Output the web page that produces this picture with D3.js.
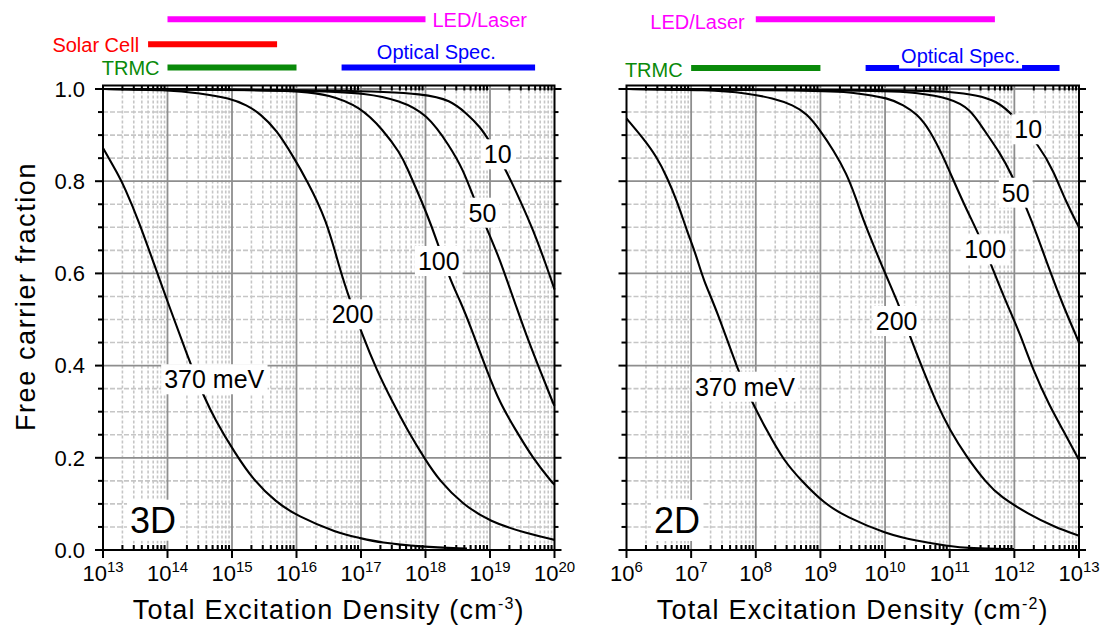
<!DOCTYPE html>
<html>
<head>
<meta charset="utf-8">
<script src="https://cdn.jsdelivr.net/npm/d3@7/dist/d3.min.js"></script>
<style>
html,body{margin:0;padding:0;background:#fff;}
svg{display:block;}
text{font-family:"Liberation Sans",Arial,Helvetica,sans-serif;}
</style>
</head>
<body>
<svg id="chart" width="1118" height="634"></svg>
<script>
// ================= DATA =================
// Each curve: [log10(total excitation density), free carrier fraction]
// 3D panel (density in cm^-3)
const curve3D_10 = [[13.0,1.0],[17.0,0.998],[18.0,0.989],[18.38,0.976],[18.639,0.947],[18.845,0.918],[19.0,0.886],[19.259,0.821],[19.465,0.759],[19.671,0.694],[19.879,0.615],[20.0,0.565]];
const curve3D_50 = [[13.0,1.0],[16.3,0.997],[17.088,0.991],[17.6,0.975],[18.019,0.947],[18.38,0.875],[18.586,0.824],[18.74,0.766],[18.949,0.698],[19.155,0.629],[19.26,0.586],[19.39,0.535],[19.57,0.463],[19.775,0.390],[19.98,0.318],[20.0,0.313]];
const curve3D_100 = [[13.0,1.0],[15.5,0.998],[16.05,0.995],[16.5,0.988],[16.984,0.962],[17.346,0.911],[17.605,0.861],[17.709,0.831],[17.864,0.781],[18.019,0.730],[18.174,0.672],[18.38,0.586],[18.535,0.542],[18.72,0.477],[18.949,0.390],[19.155,0.318],[19.40,0.260],[19.65,0.202],[19.97,0.145],[20.0,0.142]];
const curve3D_200 = [[13.0,1.0],[14.0,0.998],[14.504,0.991],[14.969,0.980],[15.228,0.965],[15.434,0.947],[15.693,0.911],[15.95,0.853],[16.158,0.803],[16.468,0.716],[16.674,0.607],[16.829,0.542],[17.011,0.470],[17.243,0.390],[17.50,0.318],[17.72,0.260],[18.0,0.195],[18.22,0.150],[18.56,0.101],[19.0,0.061],[19.569,0.036],[20.0,0.022]];
const curve3D_370 = [[13.0,0.872],[13.24,0.813],[13.33,0.788],[13.55,0.716],[13.86,0.593],[14.349,0.405],[14.555,0.336],[14.74,0.282],[15.047,0.210],[15.33,0.152],[15.68,0.104],[16.008,0.074],[16.628,0.037],[16.984,0.026],[17.295,0.016],[17.915,0.007],[18.643,0.003]];

// 2D panel (density in cm^-2)
const curve2D_10 = [[6.0,1.0],[10.5,0.998],[11.0,0.994],[11.416,0.987],[11.725,0.974],[11.982,0.944],[12.395,0.875],[12.6,0.824],[12.808,0.752],[13.0,0.700]];
const curve2D_50 = [[6.0,1.0],[10.0,0.997],[10.5,0.992],[11.003,0.980],[11.312,0.958],[11.53,0.911],[11.78,0.861],[11.95,0.817],[12.2,0.738],[12.36,0.680],[12.55,0.605],[12.74,0.535],[13.0,0.450]];
const curve2D_100 = [[6.0,1.0],[9.0,0.997],[9.5,0.993],[10.075,0.980],[10.28,0.965],[10.488,0.947],[10.694,0.911],[10.9,0.853],[11.054,0.803],[11.261,0.738],[11.467,0.680],[11.673,0.607],[11.88,0.535],[12.086,0.470],[12.29,0.390],[12.55,0.311],[12.755,0.260],[13.0,0.195]];
const curve2D_200 = [[6.0,1.0],[7.3,0.998],[7.859,0.991],[8.27,0.980],[8.58,0.965],[8.787,0.947],[8.993,0.911],[9.198,0.868],[9.405,0.817],[9.56,0.759],[9.662,0.716],[9.87,0.644],[10.01,0.597],[10.227,0.528],[10.384,0.463],[10.59,0.390],[10.797,0.318],[11.003,0.260],[11.261,0.202],[11.57,0.145],[11.79,0.115],[12.205,0.079],[12.62,0.050],[13.0,0.031]];
const curve2D_370 = [[6.0,0.936],[6.26,0.893],[6.467,0.853],[6.622,0.810],[6.776,0.759],[6.931,0.694],[7.086,0.636],[7.188,0.586],[7.395,0.521],[7.729,0.387],[7.936,0.322],[8.168,0.260],[8.425,0.195],[8.72,0.148],[9.06,0.101],[9.393,0.072],[10.018,0.035],[10.487,0.020],[10.955,0.009],[11.32,0.0035],[11.996,0.002]];

const curveNames = ["10","50","100","200","370 meV"];
const tickExp3D = [13,14,15,16,17,18,19,20];
const tickExp2D = [6,7,8,9,10,11,12,13];
const yTickValues = [0.0,0.2,0.4,0.6,0.8,1.0];
const yTickLabels = ["0.0","0.2","0.4","0.6","0.8","1.0"];

// measurement technique ranges [name, from, to]
const ranges3D = [["LED/Laser",1e14,1e18],["Solar Cell",5e13,5e15],["TRMC",1e14,1e16],["Optical Spec.",5e16,5e19]];
const ranges2D = [["LED/Laser",1e8,5e11],["TRMC",1e7,1e9],["Optical Spec.",5e9,5e12]];

// ================= LAYOUT =================
const svg = d3.select("#chart");
const Y0 = 550, YT = 85.5;
const y = d3.scaleLinear().domain([0, 1.0076]).range([Y0, YT]);
const rangeColors = {"LED/Laser":"#ff00ff","Solar Cell":"#ff0000","TRMC":"#0a8a0a","Optical Spec.":"#0000ff"};

const panels = [
  {
    dim:"3D", unit:"-3",
    x: d3.scaleLog().domain([1e13,1e20]).range([103,554.5]),
    exps: tickExp3D,
    curves:[curve3D_10,curve3D_50,curve3D_100,curve3D_200,curve3D_370],
    labelPos:[[19.119,0.8388],[18.884,0.7121],[18.206,0.6074],[16.868,0.4918],[14.724,0.3508]],
    dimPos:[13.419,0.0375],
    yLabels:true,
    ranges: ranges3D,
    rangeLayout:{
      "LED/Laser":{row:19.3, side:"right", gap:7, base:27},
      "Solar Cell":{row:44.3, side:"left", gap:9, base:51.5},
      "TRMC":{row:67.6, side:"left", gap:8, base:75},
      "Optical Spec.":{row:67.6, side:"above", base:59}
    }
  },
  {
    dim:"2D", unit:"-2",
    x: d3.scaleLog().domain([1e6,1e13]).range([626.5,1079]),
    exps: tickExp2D,
    curves:[curve2D_10,curve2D_50,curve2D_100,curve2D_200,curve2D_370],
    labelPos:[[12.214,0.8931],[12.021,0.7555],[11.549,0.6328],[10.179,0.4772],[7.833,0.3347]],
    dimPos:[6.425,0.0369],
    yLabels:false,
    ranges: ranges2D,
    rangeLayout:{
      "LED/Laser":{row:19.3, side:"left", gap:11, base:28.5},
      "TRMC":{row:68, side:"left", gap:8.5, base:77},
      "Optical Spec.":{row:68, side:"above", base:62.5, box:true}
    }
  }
];

const MAJ = "#8e8e8e", MIN = "#c6c6c6";

panels.forEach(p => {
  const g = svg.append("g");
  const [x0, x1] = p.x.range();
  const lo = p.exps[0], hi = p.exps[p.exps.length-1];

  const minorX = [];
  for (let e = lo; e < hi; e++) for (let k = 2; k <= 9; k++) minorX.push(k * Math.pow(10, e));
  const minorY = d3.range(1, 20).filter(i => i % 4 !== 0).map(i => i * 0.05);
  const majorX = p.exps.slice(1, -1).map(e => Math.pow(10, e));
  const majorY = [0.2, 0.4, 0.6, 0.8, 1.0];

  // minor grid
  g.append("g").selectAll("line").data(minorX).join("line")
    .attr("x1", d => p.x(d)).attr("x2", d => p.x(d)).attr("y1", YT).attr("y2", Y0)
    .attr("stroke", MIN).attr("stroke-width", 1.6).attr("stroke-dasharray", "3,2");
  g.append("g").selectAll("line").data(minorY).join("line")
    .attr("x1", x0).attr("x2", x1).attr("y1", d => y(d)).attr("y2", d => y(d))
    .attr("stroke", MIN).attr("stroke-width", 1.6).attr("stroke-dasharray", "5,2");
  // major grid
  g.append("g").selectAll("line").data(majorX).join("line")
    .attr("x1", d => p.x(d)).attr("x2", d => p.x(d)).attr("y1", YT).attr("y2", Y0)
    .attr("stroke", MAJ).attr("stroke-width", 1.8);
  g.append("g").selectAll("line").data(majorY).join("line")
    .attr("x1", x0).attr("x2", x1).attr("y1", d => y(d)).attr("y2", d => y(d))
    .attr("stroke", MAJ).attr("stroke-width", 1.8);

  // curves
  const line = d3.line()
    .x(d => p.x(Math.pow(10, d[0])))
    .y(d => y(d[1]))
    .curve(d3.curveBasis);
  g.append("g").selectAll("path").data(p.curves).join("path")
    .attr("d", line).attr("fill", "none").attr("stroke", "#000").attr("stroke-width", 2.1);

  // curve labels with white boxes
  curveNames.forEach((name, i) => {
    const [lx, ly] = p.labelPos[i];
    const gl = g.append("g");
    const r = gl.append("rect").attr("fill", "#fff");
    const t = gl.append("text").attr("x", p.x(Math.pow(10, lx))).attr("y", y(ly))
      .attr("text-anchor", "middle").attr("font-size", 25).attr("fill", "#000").text(name);
    const bb = t.node().getBBox();
    r.attr("x", bb.x - 3).attr("y", bb.y - 1).attr("width", bb.width + 6).attr("height", bb.height + 2);
  });
  // 3D / 2D label
  {
    const gl = g.append("g");
    const r = gl.append("rect").attr("fill", "#fff");
    const t = gl.append("text").attr("x", p.x(Math.pow(10, p.dimPos[0]))).attr("y", y(p.dimPos[1]))
      .attr("font-size", 36).attr("fill", "#000").text(p.dim);
    const bb = t.node().getBBox();
    r.attr("x", bb.x - 3).attr("y", bb.y).attr("width", bb.width + 6).attr("height", bb.height);
  }

  // frame
  g.append("rect").attr("x", x0).attr("y", YT).attr("width", x1 - x0).attr("height", Y0 - YT)
    .attr("fill", "none").attr("stroke", "#000").attr("stroke-width", 2);

  // ticks
  const tk = g.append("g").attr("stroke", "#000").attr("stroke-width", 2);
  const minorYT = d3.range(1, 20).filter(i => i % 4 !== 0).map(i => i * 0.05);
  tk.selectAll(".lmaj").data(yTickValues).join("line").attr("class","lmaj")
    .attr("x1", x0 - 8).attr("x2", x0).attr("y1", d => y(d)).attr("y2", d => y(d));
  tk.selectAll(".lmin").data(minorYT).join("line").attr("class","lmin")
    .attr("x1", x0 - 5).attr("x2", x0).attr("y1", d => y(d)).attr("y2", d => y(d));
  tk.selectAll(".rmaj").data(yTickValues).join("line").attr("class","rmaj")
    .attr("x1", x1).attr("x2", x1 + 7).attr("y1", d => y(d)).attr("y2", d => y(d));
  tk.selectAll(".rmin").data(minorYT).join("line").attr("class","rmin")
    .attr("x1", x1).attr("x2", x1 + 4).attr("y1", d => y(d)).attr("y2", d => y(d));
  tk.selectAll(".bmaj").data(p.exps.map(e => Math.pow(10, e))).join("line").attr("class","bmaj")
    .attr("x1", d => p.x(d)).attr("x2", d => p.x(d)).attr("y1", Y0).attr("y2", Y0 + 8);
  tk.selectAll(".bmin").data(minorX).join("line").attr("class","bmin")
    .attr("x1", d => p.x(d)).attr("x2", d => p.x(d)).attr("y1", Y0).attr("y2", Y0 - 5);
  tk.selectAll(".tmin").data(minorX).join("line").attr("class","tmin")
    .attr("x1", d => p.x(d)).attr("x2", d => p.x(d)).attr("y1", YT).attr("y2", YT + 5);

  // x tick labels
  p.exps.forEach(e => {
    const t = g.append("text").attr("x", p.x(Math.pow(10, e))).attr("y", 581)
      .attr("text-anchor", "middle").attr("font-size", 22).attr("fill", "#000");
    t.append("tspan").text("10");
    t.append("tspan").attr("font-size", 15).attr("dy", -9).text(String(e));
  });

  // y tick labels
  if (p.yLabels) {
    g.selectAll(".ylab").data(yTickValues).join("text").attr("class","ylab")
      .attr("x", 85).attr("y", d => y(d) + 7.8).attr("text-anchor", "end")
      .attr("font-size", 22).attr("fill", "#000")
      .text((d, i) => yTickLabels[i]);
  }

  // x axis title
  const tt = g.append("text").attr("x", (x0 + x1) / 2).attr("y", 619)
    .attr("text-anchor", "middle").attr("font-size", 27).attr("letter-spacing", 1.2).attr("fill", "#000");
  tt.append("tspan").text("Total Excitation Density (cm");
  tt.append("tspan").attr("font-size", 16).attr("dy", -10).text(p.unit);
  tt.append("tspan").attr("dy", 10).text(")");

  // technique range bars
  p.ranges.forEach(([name, a, b]) => {
    const L = p.rangeLayout[name];
    const col = rangeColors[name];
    const xa = p.x(a), xb = p.x(b);
    g.append("line").attr("x1", xa).attr("x2", xb).attr("y1", L.row).attr("y2", L.row)
      .attr("stroke", col).attr("stroke-width", 6);
    const gl = g.append("g");
    const r = gl.append("rect").attr("fill", "#fff");
    const t = gl.append("text").attr("font-size", 20).attr("fill", col).text(name).attr("y", L.base);
    if (L.side === "right") t.attr("x", xb + L.gap).attr("text-anchor", "start");
    else if (L.side === "left") t.attr("x", xa - L.gap).attr("text-anchor", "end");
    else t.attr("x", (xa + xb) / 2 - 2).attr("text-anchor", "middle");
    if (L.box) {
      const bb = t.node().getBBox();
      r.attr("x", bb.x - 2).attr("y", bb.y).attr("width", bb.width + 4).attr("height", L.row + 0.5 - bb.y);
    }
  });
});

// y axis title
svg.append("text").attr("transform", "translate(35,296.5) rotate(-90)")
  .attr("text-anchor", "middle").attr("font-size", 27).attr("letter-spacing", 1.6).attr("fill", "#000")
  .text("Free carrier fraction");
</script>
</body>
</html>
